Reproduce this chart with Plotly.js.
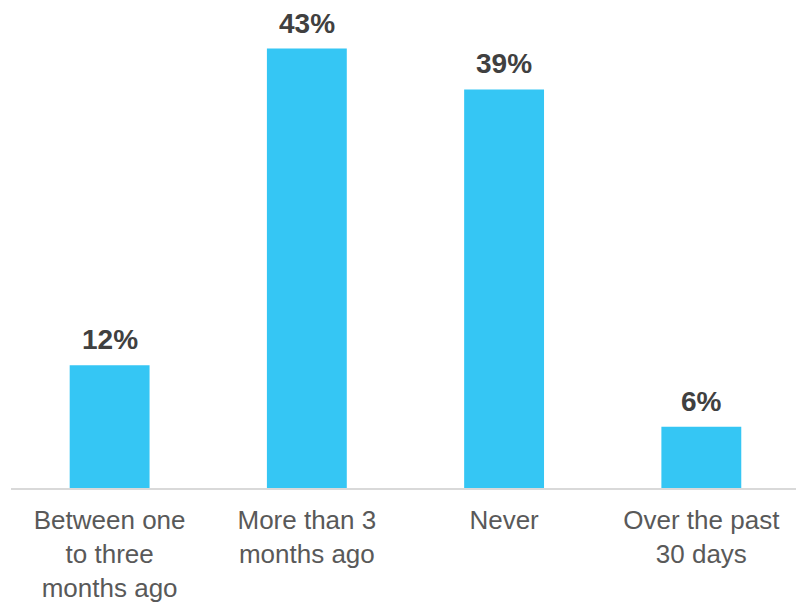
<!DOCTYPE html>
<html>
<head>
<meta charset="utf-8">
<script src="https://cdn.plot.ly/plotly-3.0.1.min.js"></script>
<style>html,body{margin:0;padding:0;background:#fff;overflow:hidden}</style>
</head>
<body>
<div id="chart" style="width:796px;height:605px"></div>
<script>
const categories = ["Between one<br>to three<br>months ago", "More than 3<br>months ago", "Never", "Over the past<br>30 days"];
const values = [12, 43, 39, 6];
const labels = ["12%", "43%", "39%", "6%"];

const FONT = "Arial, 'Liberation Sans', sans-serif";

const annotations = categories.map((c, i) => ({
  x: c, y: values[i], xref: "x", yref: "y",
  text: labels[i], showarrow: false,
  yanchor: "bottom", yshift: 8,
  font: {family: FONT, size: 28, color: "#404040", weight: "bold"}
}));

Plotly.newPlot("chart", [{
  type: "bar",
  x: categories,
  y: values,
  marker: {color: "#35C6F4"},
  hoverinfo: "none"
}], {
  width: 796,
  height: 605,
  margin: {l: 11, r: 0, t: 0, b: 117},
  paper_bgcolor: "#fff",
  plot_bgcolor: "#fff",
  bargap: 0.595,
  showlegend: false,
  annotations: annotations,
  xaxis: {
    range: [-0.5, 3.48],
    showline: true,
    linecolor: "#D9D9D9",
    linewidth: 2,
    ticks: "",
    showgrid: false,
    zeroline: false,
    ticklabelstandoff: 8,
    tickfont: {family: FONT, size: 26, color: "#595959"},
    fixedrange: true
  },
  yaxis: {
    range: [0, 47.75],
    visible: false,
    showgrid: false,
    zeroline: false,
    fixedrange: true
  },
  font: {family: FONT}
}, {displayModeBar: false, staticPlot: true});
</script>
</body>
</html>
